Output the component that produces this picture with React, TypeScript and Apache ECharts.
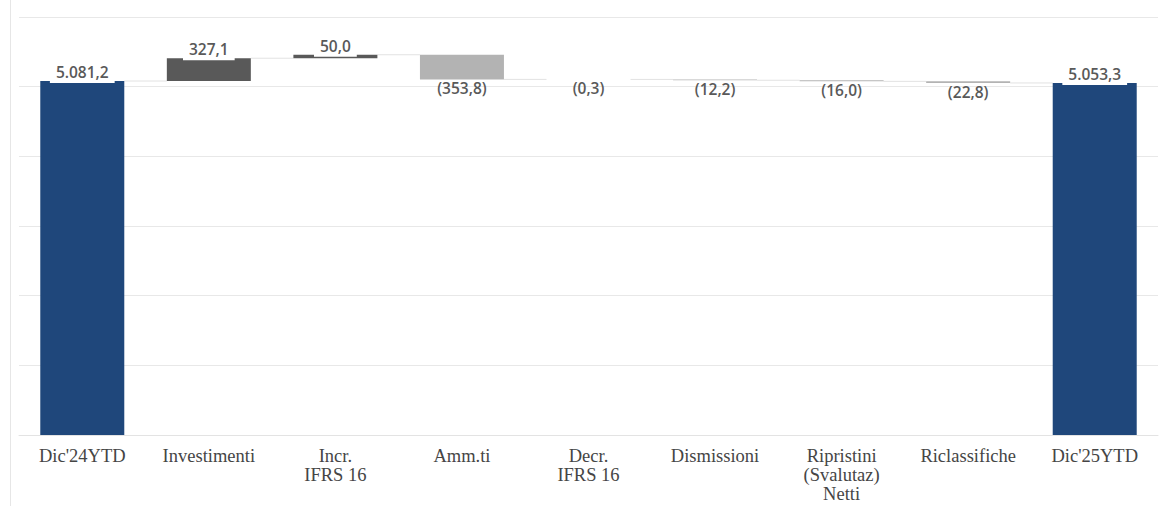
import { useEffect, useRef } from "react";
import * as echarts from "echarts";

const categories = [
  "Dic'24YTD",
  "Investimenti",
  "Incr.\nIFRS 16",
  "Amm.ti",
  "Decr.\nIFRS 16",
  "Dismissioni",
  "Ripristini\n(Svalutaz)\nNetti",
  "Riclassifiche",
  "Dic'25YTD",
];
const deltas = [5081.2, 327.1, 50.0, -353.8, -0.3, -12.2, -16.0, -22.8, 5053.3];
const isTotal = [true, false, false, false, false, false, false, false, true];

const COLOR_TOTAL = "#1F477B";
const COLOR_POS = "#595959";
const COLOR_NEG = "#B3B3B3";
const BAR_W = 84;

function fmtNum(v: number): string {
  const a = Math.abs(v);
  const [ip, dp] = a.toFixed(1).split(".");
  const withSep = ip.replace(/\B(?=(\d{3})+(?!\d))/g, ".");
  const s = withSep + "," + dp;
  return v < 0 ? "(" + s + ")" : s;
}

export default function App() {
  const ref = useRef<HTMLDivElement>(null);
  useEffect(() => {
    const chart = echarts.init(ref.current!, null, { renderer: "svg" });
    let run = 0;
    const base: number[] = [];
    const height: number[] = [];
    const levels: number[] = [];
    deltas.forEach((d, i) => {
      if (isTotal[i]) {
        base.push(0);
        height.push(d);
        run = d;
      } else {
        const end = run + d;
        base.push(Math.min(run, end));
        height.push(Math.abs(d));
        run = end;
      }
      levels.push(run);
    });

    const barData = height.map((h, i) => {
      const neg = !isTotal[i] && deltas[i] < 0;
      const color = isTotal[i] ? COLOR_TOTAL : neg ? COLOR_NEG : COLOR_POS;
      return {
        value: h,
        itemStyle: { color },
        label: neg
          ? { position: "bottom", distance: 1, backgroundColor: "transparent", padding: 0 }
          : { position: "top", distance: -2, backgroundColor: "#ffffff", padding: [0, 6, 3, 6] },
      };
    });

    const connectorData = levels.slice(0, levels.length - 1).map((l, i) => [i, l]);

    chart.setOption({
      animation: false,
      grid: { left: 19, right: 1, top: 17, bottom: 71, containLabel: false },
      graphic: [
        {
          type: "line",
          shape: { x1: 10.5, y1: 0, x2: 10.5, y2: 506 },
          style: { stroke: "#E6E6E6", lineWidth: 1 },
          silent: true,
        },
      ],
      xAxis: {
        type: "category",
        data: categories,
        axisTick: { show: false },
        axisLine: { show: true, lineStyle: { color: "#E3E3E3" } },
        axisLabel: {
          interval: 0,
          fontFamily: "Liberation Serif",
          fontSize: 18.5,
          lineHeight: 19,
          color: "#454545",
          margin: 11,
        },
      },
      yAxis: {
        type: "value",
        min: 0,
        max: 6000,
        interval: 1000,
        axisLabel: { show: false },
        axisLine: { show: false },
        axisTick: { show: false },
        splitLine: { lineStyle: { color: "#E8E8E8", width: 1 } },
      },
      series: [
        {
          type: "custom",
          z: 1,
          silent: true,
          data: connectorData,
          renderItem: (params: any, api: any) => {
            const i = api.value(0);
            const lvl = api.value(1);
            const p = api.coord([i, lvl]);
            const w = api.size([1, 0])[0];
            return {
              type: "line",
              shape: { x1: p[0] + BAR_W / 2, y1: p[1], x2: p[0] + w - BAR_W / 2, y2: p[1] },
              style: { stroke: "#E2E2E2", lineWidth: 1 },
            };
          },
        },
        {
          type: "bar",
          stack: "wf",
          z: 2,
          barWidth: BAR_W,
          silent: true,
          itemStyle: { color: "transparent" },
          data: base,
        },
        {
          type: "bar",
          stack: "wf",
          z: 3,
          barWidth: BAR_W,
          silent: true,
          data: barData,
          label: {
            show: true,
            formatter: (p: any) => fmtNum(deltas[p.dataIndex]),
            fontFamily: "Open Sans",
            fontWeight: 600,
            fontSize: 15.5,
            lineHeight: 16,
            color: "#595959",
          },
        },
      ],
    });
    return () => chart.dispose();
  }, []);
  return (
    <div
      ref={ref}
      style={{ position: "absolute", left: 0, top: 0, width: 1159, height: 506 }}
    />
  );
}
